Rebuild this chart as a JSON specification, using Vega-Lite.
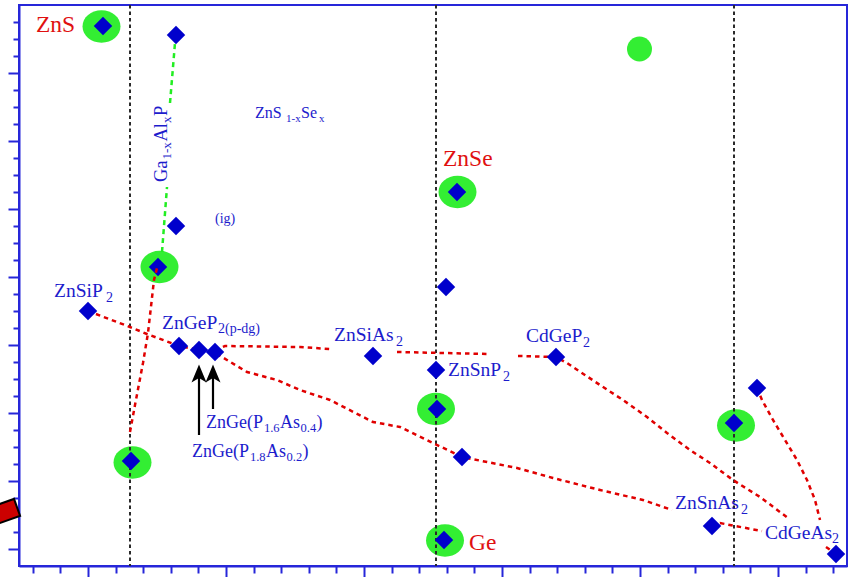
{
  "$schema": "https://vega.github.io/schema/vega-lite/v6.json",
  "width": 828,
  "height": 561,
  "autosize": {"type": "none"},
  "padding": {"left": 19, "top": 5, "right": 6, "bottom": 11},
  "background": "white",
  "config": {
    "view": {"stroke": "#2626d9", "strokeWidth": 2},
    "axis": {"labels": false, "labelOverlap": false, "grid": false, "domainColor": "#2626d9", "domainWidth": 2, "tickColor": "#2626d9", "tickWidth": 2}
  },
  "datasets": {
    "ell": [
      {"name": "ZnS", "x": 5.409783, "y": 3.673529},
      {"name": "GaP", "x": 5.451812, "y": 2.258824},
      {"name": "Si", "x": 5.432246, "y": 1.108824},
      {"name": "GaAs", "x": 5.652174, "y": 1.423529},
      {"name": "Ge", "x": 5.658696, "y": 0.65},
      {"name": "ZnSe", "x": 5.667754, "y": 2.7},
      {"name": "InP", "x": 5.869565, "y": 1.326471}
    ],
    "circ": [{"x": 5.799638, "y": 3.541176}],
    "vl": [{"x": 5.430435}, {"x": 5.652174}, {"x": 5.868116}],
    "red": [
      {"s": "a", "x": 5.4, "y": 2.0},
      {"s": "a", "x": 5.430435, "y": 1.905882},
      {"s": "a", "x": 5.442754, "y": 1.864706},
      {"s": "a", "x": 5.465942, "y": 1.794118},
      {"s": "a", "x": 5.480435, "y": 1.770588},
      {"s": "a", "x": 5.492029, "y": 1.752941},
      {"s": "a", "x": 5.497101, "y": 1.729412},
      {"s": "a", "x": 5.515217, "y": 1.641176},
      {"s": "a", "x": 5.536957, "y": 1.594118},
      {"s": "a", "x": 5.553623, "y": 1.535294},
      {"s": "a", "x": 5.575362, "y": 1.476471},
      {"s": "a", "x": 5.606522, "y": 1.347059},
      {"s": "a", "x": 5.626087, "y": 1.317647},
      {"s": "a", "x": 5.65, "y": 1.223529},
      {"s": "a", "x": 5.671014, "y": 1.141176},
      {"s": "a", "x": 5.71087, "y": 1.076471},
      {"s": "a", "x": 5.736957, "y": 1.017647},
      {"s": "a", "x": 5.771014, "y": 0.947059},
      {"s": "a", "x": 5.802174, "y": 0.888235},
      {"s": "a", "x": 5.823188, "y": 0.829412},
      {"s": "b1", "x": 5.492029, "y": 1.770588},
      {"s": "b1", "x": 5.499275, "y": 1.794118},
      {"s": "b1", "x": 5.553623, "y": 1.788235},
      {"s": "b1", "x": 5.575362, "y": 1.776471},
      {"s": "b2", "x": 5.623913, "y": 1.758824},
      {"s": "b2", "x": 5.691304, "y": 1.747059},
      {"s": "b3", "x": 5.711594, "y": 1.735294},
      {"s": "b3", "x": 5.73913, "y": 1.729412},
      {"s": "b3", "x": 5.747101, "y": 1.694118},
      {"s": "b3", "x": 5.771014, "y": 1.564706},
      {"s": "b3", "x": 5.787681, "y": 1.476471},
      {"s": "b3", "x": 5.805072, "y": 1.376471},
      {"s": "b3", "x": 5.819565, "y": 1.282353},
      {"s": "b3", "x": 5.836232, "y": 1.182353},
      {"s": "b3", "x": 5.85072, "y": 1.105882},
      {"s": "b3", "x": 5.867391, "y": 1.005882},
      {"s": "b3", "x": 5.886957, "y": 0.905882},
      {"s": "b3", "x": 5.907246, "y": 0.782353},
      {"s": "c", "x": 5.884783, "y": 1.547059},
      {"s": "c", "x": 5.888406, "y": 1.476471},
      {"s": "c", "x": 5.896377, "y": 1.358824},
      {"s": "c", "x": 5.905072, "y": 1.241176},
      {"s": "c", "x": 5.913768, "y": 1.123529},
      {"s": "c", "x": 5.921014, "y": 1.005882},
      {"s": "c", "x": 5.926812, "y": 0.888235},
      {"s": "c", "x": 5.930435, "y": 0.770588},
      {"s": "d1", "x": 5.852174, "y": 0.735294},
      {"s": "d1", "x": 5.857971, "y": 0.752941},
      {"s": "d1", "x": 5.868841, "y": 0.735294},
      {"s": "d1", "x": 5.888406, "y": 0.705882},
      {"s": "d2", "x": 5.934783, "y": 0.611765},
      {"s": "d2", "x": 5.942029, "y": 0.570588}
    ],
    "redtop": [
      {"x": 5.430435, "y": 1.288235},
      {"x": 5.434058, "y": 1.447059},
      {"x": 5.439855, "y": 1.694118},
      {"x": 5.443478, "y": 1.870588},
      {"x": 5.447826, "y": 2.182353},
      {"x": 5.45, "y": 2.252941}
    ],
    "green": [
      {"s": "g1", "x": 5.453623, "y": 2.347059},
      {"s": "g1", "x": 5.457246, "y": 2.729412},
      {"s": "g2", "x": 5.45942, "y": 3.223529},
      {"s": "g2", "x": 5.463043, "y": 3.576471}
    ],
    "dia": [
      {"name": "ZnS", "x": 5.41087, "y": 3.676471},
      {"name": "AlP", "x": 5.463768, "y": 3.623529},
      {"name": "ig", "x": 5.463768, "y": 2.5},
      {"name": "GaP", "x": 5.450725, "y": 2.258824},
      {"name": "ZnSiP2", "x": 5.4, "y": 2.0},
      {"name": "ZnGeP2", "x": 5.465942, "y": 1.794118},
      {"name": "ZnGe(P1.8As0.2)", "x": 5.480435, "y": 1.770588},
      {"name": "ZnGe(P1.6As0.4)", "x": 5.492029, "y": 1.758824},
      {"name": "Si", "x": 5.431159, "y": 1.117647},
      {"name": "ZnSiAs2", "x": 5.606522, "y": 1.735294},
      {"name": "p1", "x": 5.65942, "y": 2.141176},
      {"name": "ZnSnP2", "x": 5.652174, "y": 1.652941},
      {"name": "CdGeP2", "x": 5.73913, "y": 1.729412},
      {"name": "ZnSe", "x": 5.667391, "y": 2.7},
      {"name": "GaAs", "x": 5.652899, "y": 1.423529},
      {"name": "ZnGeAs2", "x": 5.671014, "y": 1.141176},
      {"name": "Ge", "x": 5.657971, "y": 0.652941},
      {"name": "InP", "x": 5.868116, "y": 1.341176},
      {"name": "p2", "x": 5.884783, "y": 1.547059},
      {"name": "ZnSnAs2", "x": 5.852174, "y": 0.735294},
      {"name": "CdGeAs2", "x": 5.942029, "y": 0.570588}
    ],
    "shaft": [
      {"x": 5.480435, "y": 1.270588, "y2": 1.605882},
      {"x": 5.49058, "y": 1.423529, "y2": 1.605882}
    ],
    "head": [
      {"x": 5.480435, "y": 1.629412},
      {"x": 5.49058, "y": 1.629412}
    ],
    "tRed": [
      {"t": "ZnS", "x": 5.362319, "y": 3.641176},
      {"t": "ZnSe", "x": 5.657246, "y": 2.852941},
      {"t": "Ge", "x": 5.676087, "y": 0.594118}
    ],
    "tBlue": [
      {"t": "ZnSiP", "x": 5.375362, "y": 2.082353},
      {"t": "ZnGeP", "x": 5.453623, "y": 1.894118},
      {"t": "ZnSiAs", "x": 5.578261, "y": 1.823529},
      {"t": "ZnSnP", "x": 5.66087, "y": 1.617647},
      {"t": "CdGeP", "x": 5.717391, "y": 1.817647},
      {"t": "ZnSnAs", "x": 5.825362, "y": 0.835294},
      {"t": "CdGeAs", "x": 5.89058, "y": 0.658824}
    ],
    "tBlueSub": [
      {"t": "2", "x": 5.413043, "y": 2.052941},
      {"t": "2(p-dg)", "x": 5.494203, "y": 1.870588},
      {"t": "2", "x": 5.623188, "y": 1.794118},
      {"t": "2", "x": 5.700725, "y": 1.588235},
      {"t": "2", "x": 5.758696, "y": 1.788235},
      {"t": "2", "x": 5.873188, "y": 0.805882},
      {"t": "2", "x": 5.93913, "y": 0.635294},
      {"t": "(ig)", "x": 5.492029, "y": 2.517647}
    ],
    "tBlue18": [
      {"t": "ZnGe(P", "x": 5.485507, "y": 1.311765},
      {"t": "As", "x": 5.53913, "y": 1.311765},
      {"t": ")", "x": 5.56558, "y": 1.311765},
      {"t": "ZnGe(P", "x": 5.475362, "y": 1.141176},
      {"t": "As", "x": 5.528986, "y": 1.141176},
      {"t": ")", "x": 5.555435, "y": 1.141176}
    ],
    "tBlueSub12": [
      {"t": "1.6", "x": 5.527536, "y": 1.288235},
      {"t": "0.4", "x": 5.553986, "y": 1.288235},
      {"t": "1.8", "x": 5.517391, "y": 1.117647},
      {"t": "0.2", "x": 5.543841, "y": 1.117647}
    ],
    "tSm16": [
      {"t": "ZnS", "x": 5.521014, "y": 3.135294},
      {"t": "Se", "x": 5.554348, "y": 3.135294}
    ],
    "tSm11": [
      {"t": "1-x", "x": 5.543478, "y": 3.111765},
      {"t": "x", "x": 5.567391, "y": 3.111765}
    ],
    "tRot17": [
      {"t": "Ga", "x": 5.457246, "y": 2.758824},
      {"t": "Al", "x": 5.457246, "y": 2.997059},
      {"t": "P", "x": 5.457246, "y": 3.147059}
    ],
    "tRot12": [
      {"t": "1-x", "x": 5.460507, "y": 2.891176},
      {"t": "x", "x": 5.460507, "y": 3.105882}
    ],
    "bar": [
      {"x": 5.328986, "y": 0.788235},
      {"x": 5.349275, "y": 0.847059}
    ],
    "barRed": [
      {"x": 5.328986, "y": 0.788235},
      {"x": 5.347899, "y": 0.842941}
    ]
  },
  "layer": [
    {
      "data": {"name": "ell"},
      "mark": {"type": "point", "filled": true, "opacity": 1, "strokeWidth": 0, "color": "#33ee33", "size": 1444,
        "shape": "M-1,0 C-1,-0.4695 -0.5523,-0.85 0,-0.85 C0.5523,-0.85 1,-0.4695 1,0 C1,0.4695 0.5523,0.85 0,0.85 C-0.5523,0.85 -1,0.4695 -1,0 Z"},
      "encoding": {
        "x": {"field": "x", "type": "quantitative", "title": null, "scale": {"domain": [5.35, 5.95], "nice": false, "zero": false},
          "axis": {"values": [5.36, 5.38, 5.4, 5.42, 5.44, 5.46, 5.48, 5.5, 5.52, 5.54, 5.56, 5.58, 5.6, 5.62, 5.64, 5.66, 5.68, 5.7, 5.72, 5.74, 5.76, 5.78, 5.8, 5.82, 5.84, 5.86, 5.88, 5.9, 5.92, 5.94],
            "tickCount": 200,
            "tickSize": {"condition": {"test": "round(datum.value*100) % 10 === 0", "value": 11}, "value": 7},
            "labels": false, "labelOverlap": false, "grid": false, "title": null}},
        "y": {"field": "y", "type": "quantitative", "title": null, "scale": {"domain": [0.5, 3.8], "nice": false, "zero": false},
          "axis": {"values": [0.6, 0.7, 0.8, 0.9, 1.0, 1.1, 1.2, 1.3, 1.4, 1.5, 1.6, 1.7, 1.8, 1.9, 2.0, 2.1, 2.2, 2.3, 2.4, 2.5, 2.6, 2.7, 2.8, 2.9, 3.0, 3.1, 3.2, 3.3, 3.4, 3.5, 3.6, 3.7],
            "tickCount": 200,
            "tickSize": {"condition": {"test": "round(datum.value*10) % 4 === 2", "value": 11}, "value": 6},
            "labels": false, "labelOverlap": false, "grid": false, "title": null}}
      }
    },
    {
      "data": {"name": "circ"},
      "mark": {"type": "point", "shape": "circle", "filled": true, "opacity": 1, "strokeWidth": 0, "color": "#33ee33", "size": 625},
      "encoding": {
        "x": {"field": "x", "type": "quantitative", "title": null},
        "y": {"field": "y", "type": "quantitative", "title": null}
      }
    },
    {
      "data": {"name": "vl"},
      "mark": {"type": "rule", "color": "#2a2a2a", "strokeWidth": 2, "strokeDash": [3.5, 3]},
      "encoding": {
        "x": {"field": "x", "type": "quantitative", "title": null}
      }
    },
    {
      "data": {"name": "red"},
      "mark": {"type": "line", "color": "#e00000", "strokeWidth": 2.5, "strokeDash": [4.5, 4]},
      "encoding": {
        "x": {"field": "x", "type": "quantitative", "title": null},
        "y": {"field": "y", "type": "quantitative", "title": null},
        "detail": {"field": "s"}
      }
    },
    {
      "data": {"name": "dia"},
      "mark": {"type": "point", "shape": "diamond", "filled": true, "opacity": 1, "strokeWidth": 0, "color": "#0000cc", "size": 340},
      "encoding": {
        "x": {"field": "x", "type": "quantitative", "title": null},
        "y": {"field": "y", "type": "quantitative", "title": null}
      }
    },
    {
      "data": {"name": "redtop"},
      "mark": {"type": "line", "color": "#e00000", "strokeWidth": 2.5, "strokeDash": [4.5, 4]},
      "encoding": {
        "x": {"field": "x", "type": "quantitative", "title": null},
        "y": {"field": "y", "type": "quantitative", "title": null}
      }
    },
    {
      "data": {"name": "green"},
      "mark": {"type": "line", "color": "#22ee22", "strokeWidth": 2.5, "strokeDash": [5, 4]},
      "encoding": {
        "x": {"field": "x", "type": "quantitative", "title": null},
        "y": {"field": "y", "type": "quantitative", "title": null},
        "detail": {"field": "s"}
      }
    },
    {
      "data": {"name": "shaft"},
      "mark": {"type": "rule", "color": "black", "strokeWidth": 2.2},
      "encoding": {
        "x": {"field": "x", "type": "quantitative", "title": null},
        "y": {"field": "y", "type": "quantitative", "title": null},
        "y2": {"field": "y2"}
      }
    },
    {
      "data": {"name": "head"},
      "mark": {"type": "point", "filled": true, "opacity": 1, "strokeWidth": 0, "color": "black", "size": 400,
        "shape": "M0,-0.95 L0.75,0.85 L0,0.4 L-0.75,0.85 Z"},
      "encoding": {
        "x": {"field": "x", "type": "quantitative", "title": null},
        "y": {"field": "y", "type": "quantitative", "title": null}
      }
    },
    {
      "data": {"name": "tRed"},
      "mark": {"type": "text", "font": "Liberation Serif", "fontSize": 23.5, "color": "#e01010", "align": "left", "baseline": "alphabetic"},
      "encoding": {
        "x": {"field": "x", "type": "quantitative", "title": null},
        "y": {"field": "y", "type": "quantitative", "title": null},
        "text": {"field": "t"}
      }
    },
    {
      "data": {"name": "tBlue"},
      "mark": {"type": "text", "font": "Liberation Serif", "fontSize": 19.5, "color": "#1c1ccc", "align": "left", "baseline": "alphabetic"},
      "encoding": {
        "x": {"field": "x", "type": "quantitative", "title": null},
        "y": {"field": "y", "type": "quantitative", "title": null},
        "text": {"field": "t"}
      }
    },
    {
      "data": {"name": "tBlueSub"},
      "mark": {"type": "text", "font": "Liberation Serif", "fontSize": 14, "color": "#1c1ccc", "align": "left", "baseline": "alphabetic"},
      "encoding": {
        "x": {"field": "x", "type": "quantitative", "title": null},
        "y": {"field": "y", "type": "quantitative", "title": null},
        "text": {"field": "t"}
      }
    },
    {
      "data": {"name": "tBlue18"},
      "mark": {"type": "text", "font": "Liberation Serif", "fontSize": 18, "color": "#1c1ccc", "align": "left", "baseline": "alphabetic"},
      "encoding": {
        "x": {"field": "x", "type": "quantitative", "title": null},
        "y": {"field": "y", "type": "quantitative", "title": null},
        "text": {"field": "t"}
      }
    },
    {
      "data": {"name": "tBlueSub12"},
      "mark": {"type": "text", "font": "Liberation Serif", "fontSize": 12.5, "color": "#1c1ccc", "align": "left", "baseline": "alphabetic"},
      "encoding": {
        "x": {"field": "x", "type": "quantitative", "title": null},
        "y": {"field": "y", "type": "quantitative", "title": null},
        "text": {"field": "t"}
      }
    },
    {
      "data": {"name": "tSm16"},
      "mark": {"type": "text", "font": "Liberation Serif", "fontSize": 16, "color": "#1c1ccc", "align": "left", "baseline": "alphabetic"},
      "encoding": {
        "x": {"field": "x", "type": "quantitative", "title": null},
        "y": {"field": "y", "type": "quantitative", "title": null},
        "text": {"field": "t"}
      }
    },
    {
      "data": {"name": "tSm11"},
      "mark": {"type": "text", "font": "Liberation Serif", "fontSize": 11, "color": "#1c1ccc", "align": "left", "baseline": "alphabetic"},
      "encoding": {
        "x": {"field": "x", "type": "quantitative", "title": null},
        "y": {"field": "y", "type": "quantitative", "title": null},
        "text": {"field": "t"}
      }
    },
    {
      "data": {"name": "tRot17"},
      "mark": {"type": "text", "font": "Liberation Serif", "fontSize": 18.5, "color": "#1c1ccc", "align": "left", "baseline": "alphabetic", "angle": 270},
      "encoding": {
        "x": {"field": "x", "type": "quantitative", "title": null},
        "y": {"field": "y", "type": "quantitative", "title": null},
        "text": {"field": "t"}
      }
    },
    {
      "data": {"name": "tRot12"},
      "mark": {"type": "text", "font": "Liberation Serif", "fontSize": 13, "color": "#1c1ccc", "align": "left", "baseline": "alphabetic", "angle": 270},
      "encoding": {
        "x": {"field": "x", "type": "quantitative", "title": null},
        "y": {"field": "y", "type": "quantitative", "title": null},
        "text": {"field": "t"}
      }
    },
    {
      "data": {"name": "bar"},
      "mark": {"type": "line", "color": "black", "strokeWidth": 20, "strokeCap": "butt", "clip": false},
      "encoding": {
        "x": {"field": "x", "type": "quantitative", "title": null},
        "y": {"field": "y", "type": "quantitative", "title": null}
      }
    },
    {
      "data": {"name": "barRed"},
      "mark": {"type": "line", "color": "#cc0000", "strokeWidth": 16, "strokeCap": "butt", "clip": false},
      "encoding": {
        "x": {"field": "x", "type": "quantitative", "title": null},
        "y": {"field": "y", "type": "quantitative", "title": null}
      }
    }
  ]
}
